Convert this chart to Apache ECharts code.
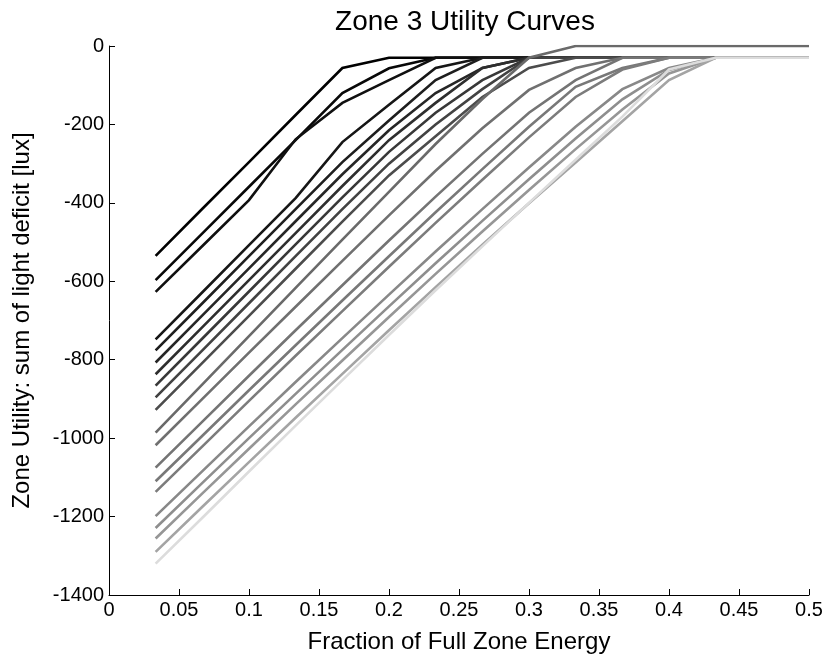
<!DOCTYPE html>
<html>
<head>
<meta charset="utf-8">
<script src="https://cdn.jsdelivr.net/npm/echarts@6/dist/echarts.min.js"></script>
<style>
  html, body { margin: 0; padding: 0; background: #ffffff; }
  #chart { width: 830px; height: 660px; }
</style>
</head>
<body>
<div id="chart"></div>
<script>
// Energy fractions at which every utility curve is sampled
const energyFraction = [0.0333, 0.0667, 0.1, 0.1333, 0.1667, 0.2, 0.2333, 0.2667, 0.3, 0.3333, 0.3667, 0.4, 0.4333, 0.4667, 0.5];

// Utility curves (sum of light deficit, lux), darkest first
const u01 = [-535, -415, -296, -176, -56, -30, -30, -30, -30, -30, -30, -30, -30, -30, -30];
const u02 = [-597, -478, -359, -240, -120, -57, -30, -30, -30, -30, -30, -30, -30, -30, -30];
const u03 = [-627, -510, -393, -238, -145, -87, -30, -30, -30, -30, -30, -30, -30, -30, -30];
const u04 = [-748, -628, -508, -388, -245, -150, -56, -30, -30, -30, -30, -30, -30, -30, -30];
const u05 = [-776, -656, -536, -416, -296, -190, -87, -30, -30, -30, -30, -30, -30, -30, -30];
const u06 = [-807, -687, -567, -447, -327, -215, -120, -56, -30, -30, -30, -30, -30, -30, -30];
const u07 = [-837, -717, -597, -477, -357, -240, -145, -56, -30, -30, -30, -30, -30, -30, -30];
const u08 = [-866, -746, -626, -506, -386, -270, -170, -87, -30, -30, -30, -30, -30, -30, -30];
const u09 = [-896, -776, -656, -536, -416, -300, -200, -110, -30, -30, -30, -30, -30, -30, -30];
const u10 = [-928, -808, -688, -568, -448, -330, -230, -130, -56, -30, -30, -30, -30, -30, -30];
const u11 = [-986, -863, -740, -617, -494, -372, -250, -135, -30, 0, 0, 0, 0, 0, 0];
const u12 = [-1018, -900, -782, -665, -548, -432, -318, -210, -112, -56, -30, -30, -30, -30, -30];
const u13 = [-1075, -958, -841, -725, -610, -496, -384, -275, -170, -87, -30, -30, -30, -30, -30];
const u14 = [-1110, -994, -878, -763, -649, -536, -424, -314, -206, -104, -56, -30, -30, -30, -30];
const u15 = [-1137, -1021, -905, -790, -676, -563, -451, -341, -233, -130, -60, -30, -30, -30, -30];
const u16 = [-1199, -1084, -970, -857, -745, -634, -524, -416, -310, -206, -110, -56, -30, -30, -30];
const u17 = [-1229, -1114, -1000, -887, -775, -664, -554, -446, -340, -236, -136, -61, -30, -30, -30];
const u18 = [-1256, -1141, -1027, -914, -802, -691, -581, -473, -367, -263, -162, -70, -30, -30, -30];
const u19 = [-1290, -1175, -1061, -948, -836, -725, -615, -507, -401, -297, -192, -87, -30, -30, -30];
const u20 = [-1320, -1203, -1085, -968, -852, -737, -623, -511, -400, -290, -180, -60, -30, -30, -30];

const curves = [u01, u02, u03, u04, u05, u06, u07, u08, u09, u10, u11, u12, u13, u14, u15, u16, u17, u18, u19, u20];

// Grey level of each curve, same order as above
const greys = ['#000000', '#080808', '#101010', '#161616', '#1e1e1e', '#262626', '#2e2e2e', '#383838', '#424242', '#4c4c4c',
               '#6a6a6a', '#707070', '#747474', '#787878', '#7c7c7c', '#888888', '#8e8e8e', '#969696', '#a4a4a4', '#dcdcdc'];

const xTicks = [0, 0.05, 0.1, 0.15, 0.2, 0.25, 0.3, 0.35, 0.4, 0.45, 0.5];
const yTicks = [-1400, -1200, -1000, -800, -600, -400, -200, 0];

const font = '"Liberation Sans", Arial, Helvetica, sans-serif';

const chart = echarts.init(document.getElementById('chart'), null, { renderer: 'canvas' });

chart.setOption({
  animation: false,
  backgroundColor: '#ffffff',
  title: {
    text: 'Zone 3 Utility Curves',
    left: 460,
    top: 3,
    textAlign: 'center',
    textStyle: { fontFamily: font, fontSize: 28, fontWeight: 'normal', color: '#000' }
  },
  grid: { left: 109, right: 21, top: 46, bottom: 65, containLabel: false, outerBoundsMode: 'none' },
  xAxis: {
    type: 'value',
    min: xTicks[0],
    max: xTicks[xTicks.length - 1],
    interval: 0.05,
    name: 'Fraction of Full Zone Energy',
    nameLocation: 'middle',
    nameGap: 35,
    nameTextStyle: { fontFamily: font, fontSize: 24, color: '#000' },
    axisLine: { show: true, onZero: false, lineStyle: { color: '#000', width: 1 } },
    axisTick: { show: true, inside: true, length: 6, lineStyle: { color: '#000' } },
    axisLabel: { fontFamily: font, fontSize: 20, color: '#000', margin: 5, formatter: v => String(v) },
    splitLine: { show: false }
  },
  yAxis: {
    type: 'value',
    min: yTicks[0],
    max: yTicks[yTicks.length - 1],
    interval: 200,
    name: 'Zone Utility: sum of light deficit [lux]',
    nameLocation: 'middle',
    nameGap: 75,
    nameRotate: 90,
    nameTextStyle: { fontFamily: font, fontSize: 24, color: '#000' },
    axisLine: { show: true, onZero: false, lineStyle: { color: '#000', width: 1 } },
    axisTick: { show: true, inside: true, length: 6, lineStyle: { color: '#000' } },
    axisLabel: { fontFamily: font, fontSize: 20, color: '#000', margin: 5, formatter: v => String(v) },
    splitLine: { show: false }
  },
  series: curves.map((vals, i) => ({
    type: 'line',
    data: vals.map((v, k) => [energyFraction[k], v]),
    showSymbol: false,
    symbol: 'none',
    silent: true,
    lineStyle: { color: greys[i], width: 2.6, join: 'miter' },
    z: 2 + i
  }))
});
</script>
</body>
</html>
